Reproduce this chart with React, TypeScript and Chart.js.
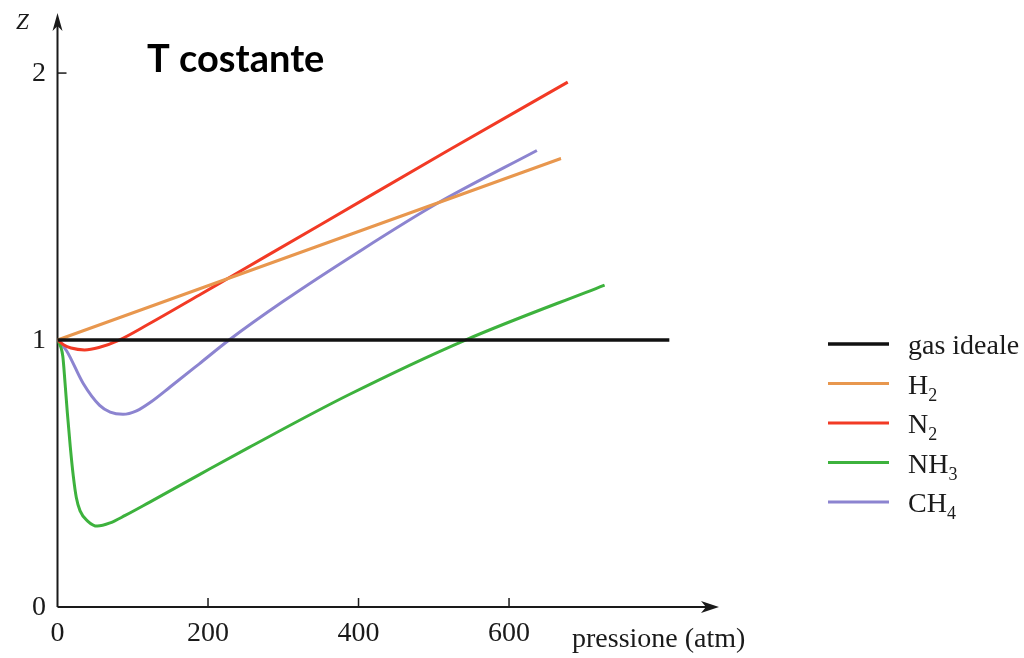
import React, { useEffect, useRef } from 'react';
import { Chart, registerables } from 'chart.js';

Chart.register(...registerables);

// ---- data ----
const xTickValues = [0, 200, 400, 600];
const yTickValues = [0, 1, 2];

const seriesNames = ['gas ideale', 'H', 'N', 'NH', 'CH'];
const seriesSubs = ['', '2', '2', '3', '4'];
const seriesColors = ['#111111', '#E8974E', '#F23A25', '#3DB23D', '#8C84D0'];

const gasX = [0, 813];
const gasY = [1, 1];

const h2X = [0, 669];
const h2Y = [1, 1.68];

const n2X = [0, 8, 18, 36, 55, 82, 120, 188, 232, 350, 519, 678];
const n2Y = [1, 0.982, 0.97, 0.963, 0.972, 1.0, 1.058, 1.168, 1.24, 1.433, 1.71, 1.966];

const nh3X = [0, 7, 10, 13, 17, 21, 25, 30, 40, 53, 70, 90, 122, 188, 254, 387, 542, 727];
const nh3Y = [1, 0.94, 0.84, 0.73, 0.6, 0.49, 0.41, 0.36, 0.322, 0.303, 0.315, 0.343, 0.392, 0.495, 0.597, 0.795, 1.0, 1.206];

const ch4X = [0, 12, 34, 56, 70, 87, 105, 125, 150, 188, 228, 300, 400, 506, 637];
const ch4Y = [1, 0.96, 0.838, 0.755, 0.73, 0.722, 0.735, 0.77, 0.825, 0.91, 1.0, 1.145, 1.33, 1.514, 1.71];

const seriesX = [gasX, h2X, n2X, nh3X, ch4X];
const seriesY = [gasY, h2Y, n2Y, nh3Y, ch4Y];

const xMax = 879;
const yMax = 2.225;

const SERIF = "'Liberation Serif', 'DejaVu Serif', serif";

const axesPlugin = {
  id: 'customAxes',
  beforeDatasetsDraw(chart: any) {
    const { ctx, chartArea, scales } = chart;
    const xs = scales.x;
    const ys = scales.y;
    const x0 = xs.getPixelForValue(0);
    const y0 = ys.getPixelForValue(0);
    ctx.save();
    ctx.strokeStyle = '#1a1a1a';
    ctx.fillStyle = '#1a1a1a';
    ctx.lineWidth = 2;
    // x axis
    ctx.beginPath();
    ctx.moveTo(x0, y0);
    ctx.lineTo(chartArea.right - 12, y0);
    ctx.stroke();
    ctx.beginPath();
    ctx.moveTo(chartArea.right, y0);
    ctx.lineTo(chartArea.right - 18, y0 - 6);
    ctx.lineTo(chartArea.right - 13, y0);
    ctx.lineTo(chartArea.right - 18, y0 + 6);
    ctx.closePath();
    ctx.fill();
    // y axis
    ctx.beginPath();
    ctx.moveTo(x0, y0);
    ctx.lineTo(x0, chartArea.top + 12);
    ctx.stroke();
    ctx.beginPath();
    ctx.moveTo(x0, chartArea.top);
    ctx.lineTo(x0 - 5, chartArea.top + 18);
    ctx.lineTo(x0, chartArea.top + 13);
    ctx.lineTo(x0 + 5, chartArea.top + 18);
    ctx.closePath();
    ctx.fill();
    // ticks
    ctx.lineWidth = 1.5;
    xTickValues.forEach((v) => {
      if (v === 0) return;
      const px = xs.getPixelForValue(v);
      ctx.beginPath();
      ctx.moveTo(px, y0);
      ctx.lineTo(px, y0 - 9);
      ctx.stroke();
    });
    yTickValues.forEach((v) => {
      if (v === 0) return;
      const py = ys.getPixelForValue(v);
      ctx.beginPath();
      ctx.moveTo(x0, py);
      ctx.lineTo(x0 + 9, py);
      ctx.stroke();
    });
    ctx.restore();
  },
  afterDraw(chart: any) {
    const { ctx, scales } = chart;
    const xs = scales.x;
    const ys = scales.y;
    const y0 = ys.getPixelForValue(0);
    ctx.save();
    ctx.fillStyle = '#1a1a1a';
    ctx.font = `28px ${SERIF}`;
    ctx.textAlign = 'center';
    ctx.textBaseline = 'alphabetic';
    xTickValues.forEach((v) => {
      ctx.fillText(String(v), xs.getPixelForValue(v), y0 + 34);
    });
    yTickValues.forEach((v) => {
      ctx.fillText(String(v), 39, ys.getPixelForValue(v) + 8);
    });
    // axis titles
    ctx.textAlign = 'left';
    ctx.fillText('pressione (atm)', 572, 647);
    ctx.font = `italic 23px ${SERIF}`;
    ctx.fillText('Z', 16, 29);
    // title
    ctx.fillStyle = '#000';
    ctx.font = "bold 38px Lato, 'Open Sans', sans-serif";
    ctx.fillText('T costante', 147, 72);
    // legend
    const rowY0 = 344;
    const rowGap = 39.5;
    seriesNames.forEach((name, i) => {
      const y = rowY0 + i * rowGap;
      ctx.strokeStyle = seriesColors[i];
      ctx.lineWidth = i === 0 ? 3.5 : 3;
      ctx.beginPath();
      ctx.moveTo(828, y);
      ctx.lineTo(889, y);
      ctx.stroke();
      ctx.fillStyle = '#1a1a1a';
      ctx.font = `28px ${SERIF}`;
      ctx.fillText(name, 908, y + 10);
      if (seriesSubs[i]) {
        const w = ctx.measureText(name).width;
        ctx.font = `18px ${SERIF}`;
        ctx.fillText(seriesSubs[i], 908 + w, y + 17);
      }
    });
    ctx.restore();
  },
};

export default function App() {
  const canvasRef = useRef<HTMLCanvasElement | null>(null);

  useEffect(() => {
    if (!canvasRef.current) return;
    const datasets = seriesNames.map((name, i) => ({
      label: name + seriesSubs[i],
      data: seriesX[i].map((x, j) => ({ x, y: seriesY[i][j] })),
      borderColor: seriesColors[i],
      backgroundColor: seriesColors[i],
      borderWidth: i === 0 ? 3.5 : 3,
      pointRadius: 0,
      cubicInterpolationMode: 'monotone' as const,
      fill: false,
    }));
    const chart = new Chart(canvasRef.current, {
      type: 'line',
      data: { datasets },
      options: {
        animation: false,
        responsive: true,
        maintainAspectRatio: false,
        layout: { padding: { left: 57.5, right: 1024 - 719, top: 13, bottom: 658 - 607 } },
        plugins: { legend: { display: false }, tooltip: { enabled: false } },
        scales: {
          x: { type: 'linear', min: 0, max: xMax, display: false },
          y: { type: 'linear', min: 0, max: yMax, display: false },
        },
      },
      plugins: [axesPlugin],
    });
    return () => chart.destroy();
  }, []);

  return (
    <div style={{ position: 'fixed', left: 0, top: 0, width: 1024, height: 658, background: '#fff' }}>
      <canvas ref={canvasRef} />
    </div>
  );
}
